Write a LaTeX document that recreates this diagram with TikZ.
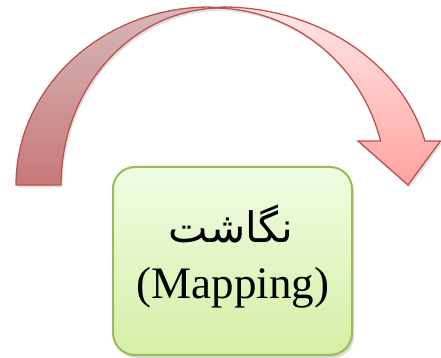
\documentclass[tikz,border=0pt]{standalone}
\usepackage{fontspec}
\setmainfont{Liberation Serif}
\newfontfamily\arabicfont[Script=Arabic]{DejaVu Sans}
\TeXXeTstate=1
\usetikzlibrary{shadows}
\definecolor{arrowline}{HTML}{C0504D}
\definecolor{lefttop}{HTML}{D6B8B8}
\definecolor{leftbot}{HTML}{C87878}
\definecolor{righttop}{HTML}{FFE6E6}
\definecolor{rightbot}{HTML}{FFA3A1}
\definecolor{boxline}{HTML}{9BBB59}
\definecolor{boxtop}{HTML}{F1FCE3}
\definecolor{boxbot}{HTML}{D5EFA6}
\begin{document}
\begin{tikzpicture}[x=1pt,y=1pt,
  band/.style={draw=arrowline, line width=1.3pt, line join=miter,
    drop shadow={opacity=0.25, shadow xshift=1.5pt, shadow yshift=-2.5pt}},
  boxstyle/.style={draw=boxline, line width=2pt, rounded corners=22pt,
    top color=boxtop, bottom color=boxbot, minimum width=239pt, minimum height=188pt,
    inner sep=0pt, drop shadow={opacity=0.3, shadow xshift=2pt, shadow yshift=-3pt}},
  label/.style={inner sep=0pt, text=black}]
\useasboundingbox (0,0) rectangle (441,358);
% left band
\path[band, top color=lefttop, bottom color=leftbot]
  (16,173) arc[start angle=180, end angle=90, x radius=194, y radius=178]
  -- (222,350)
  arc[start angle=90, end angle=180, x radius=161, y radius=177] -- cycle;
% right band with head
\path[band, top color=righttop, bottom color=rightbot]
  (213,350) arc[start angle=90, end angle=14.4, x radius=173, y radius=177]
  -- (358,217) -- (408,173) -- (440.5,217) -- (425,217)
  arc[start angle=14.3, end angle=90, x radius=210, y radius=178] -- cycle;
% box
\node[boxstyle] (box) at (232.5,97) {};
\node[label, font=\arabicfont\fontsize{42}{46}\selectfont] (fa) at (231,134) {\beginR نگاشت\endR};
\node[label, font=\fontsize{45}{50}\selectfont] (en) at (233,70) {(Mapping)};
\end{tikzpicture}
\end{document}
